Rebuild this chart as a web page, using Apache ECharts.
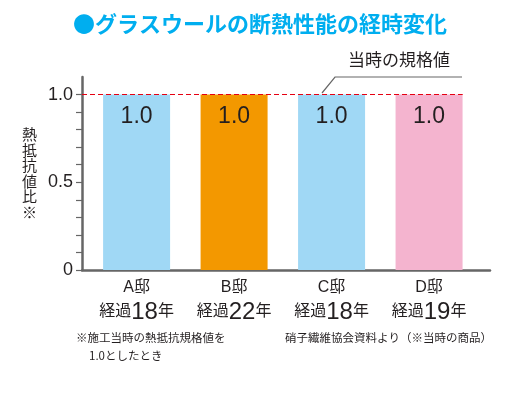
<!DOCTYPE html>
<html>
<head>
<meta charset="utf-8">
<script src="https://cdn.jsdelivr.net/npm/echarts@6/dist/echarts.min.js"></script>
<style>
    html, body { margin: 0; padding: 0; background: #fff; }
    #chart { width: 529px; height: 399px; }
</style>
</head>
<body>
<div id="chart"></div>
<script>
// データ
var houses = ['A邸', 'B邸', 'C邸', 'D邸'];
var yearsPassed = ['18', '22', '18', '19'];
var ratios = [1.0, 1.0, 1.0, 1.0];
var yLabelValues = [0, 0.5, 1.0];
var yTickValues = [0, 0.1, 0.2, 0.3, 0.4, 0.5, 0.6, 0.7, 0.8, 0.9, 1.0];
var standardValue = 1.0;

// 色
var barColors = ['#a0d8f5', '#f39800', '#a0d8f5', '#f4b4cf'];
var font = '"Liberation Sans", "Noto Sans CJK JP", sans-serif';
var textColor = '#231f20';

// x軸は数値軸（カテゴリの位置をずらすため）
var xMin = -0.56;
var xMax = 3.625;
var barHalf = 0.345;

var barData = [];
for (let i = 0; i < houses.length; i++) {
    barData.push({
        value: [i, ratios[i]],
        itemStyle: { color: barColors[i] },
    });
}

var chart = echarts.init(document.getElementById('chart'));
chart.setOption({
    animation: false,
    textStyle: { fontFamily: font },
    grid: { left: 82, top: 77, width: 408, height: 193 },
    graphic: [
        {
            type: 'text',
            left: 73,
            top: 13,
            style: {
                text: '●グラスウールの断熱性能の経時変化',
                font: 'bold 22px "Noto Sans CJK JP", sans-serif',
                fill: '#00aeef',
            },
        },
        {
            type: 'text',
            left: 348,
            top: 51,
            style: {
                text: '当時の規格値',
                font: '17px "Noto Sans CJK JP", sans-serif',
                fill: textColor,
            },
        },
        {
            type: 'polyline',
            shape: { points: [[322, 93], [335, 77], [462, 77]] },
            style: { stroke: '#666', lineWidth: 1.2, fill: null },
        },
        {
            type: 'text',
            left: 76,
            top: 332,
            style: {
                text: '※施工当時の熱抵抗規格値を',
                font: '11.5px "Noto Sans CJK JP", sans-serif',
                fill: textColor,
            },
        },
        {
            type: 'text',
            left: 89,
            top: 350,
            style: {
                text: '1.0としたとき',
                font: '11.5px "Noto Sans CJK JP", sans-serif',
                fill: textColor,
            },
        },
        {
            type: 'text',
            left: 285,
            top: 332,
            style: {
                text: '硝子繊維協会資料より（※当時の商品）',
                font: '11.5px "Noto Sans CJK JP", sans-serif',
                fill: textColor,
            },
        },
    ],
    xAxis: {
        type: 'value',
        min: xMin,
        max: xMax,
        splitLine: { show: false },
        axisTick: { show: false },
        axisLine: { show: true, onZero: false, lineStyle: { color: '#666', width: 2.5 } },
        axisLabel: {
            customValues: [0, 1, 2, 3],
            margin: 7,
            formatter: function (v) {
                var i = Math.round(v);
                return '{h|' + houses[i] + '}\n{k|経過}{n|' + yearsPassed[i] + '}{k|年}';
            },
            rich: {
                h: { fontSize: 16, color: textColor, lineHeight: 22, fontFamily: font },
                k: { fontSize: 16, color: textColor, lineHeight: 26, fontFamily: font },
                n: { fontSize: 24, color: textColor, lineHeight: 26, fontFamily: font },
            },
        },
    },
    yAxis: {
        type: 'value',
        min: 0,
        max: 1.1,
        splitLine: { show: false },
        name: '熱\n抵\n抗\n値\n比\n※',
        nameLocation: 'middle',
        nameRotate: 0,
        nameGap: 45,
        nameTextStyle: { fontSize: 15, lineHeight: 15.5, color: textColor, fontFamily: '"Noto Sans CJK JP", sans-serif' },
        axisLine: { show: true, onZero: false, lineStyle: { color: '#666', width: 2.5 } },
        axisTick: {
            show: true,
            customValues: yTickValues,
            length: 6,
            lineStyle: { color: '#666', width: 1.2 },
        },
        axisLabel: {
            customValues: yLabelValues,
            margin: 9,
            fontSize: 18,
            color: textColor,
            formatter: function (v) {
                return v === 0 ? '0' : v.toFixed(1);
            },
        },
    },
    series: [
        {
            type: 'bar',
            data: barData,
            barWidth: 67,
            label: {
                show: true,
                position: 'insideTop',
                distance: 11,
                fontSize: 23,
                color: textColor,
                formatter: function (p) {
                    return p.value[1].toFixed(1);
                },
            },
            markLine: {
                silent: true,
                symbol: 'none',
                label: { show: false },
                lineStyle: { color: '#e60012', type: [5, 3], width: 1.2 },
                data: [
                    [
                        { coord: [xMin, standardValue] },
                        { coord: [houses.length - 1 + barHalf, standardValue] },
                    ],
                ],
            },
        },
    ],
});
</script>
</body>
</html>
